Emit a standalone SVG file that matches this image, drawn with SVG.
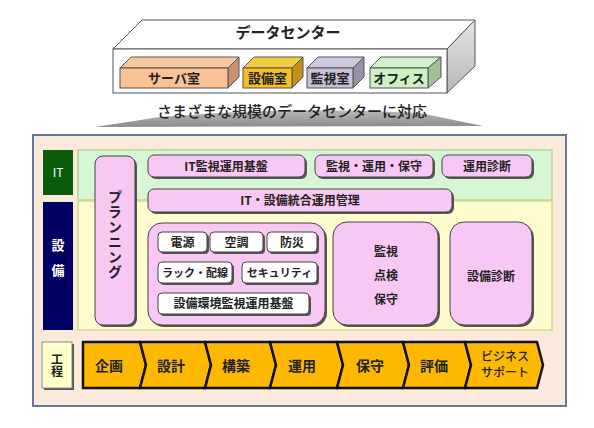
<svg xmlns="http://www.w3.org/2000/svg" width="594" height="428" viewBox="0 0 594 428">
<defs>
<linearGradient id="wedge" x1="0" y1="0" x2="0" y2="1">
<stop offset="0" stop-color="#b8b8b8"/>
<stop offset="1" stop-color="#8c8c8c"/>
</linearGradient>
<linearGradient id="side" x1="0" y1="0" x2="0" y2="1">
<stop offset="0" stop-color="#e4e4e4"/>
<stop offset="1" stop-color="#b8b8b8"/>
</linearGradient>
</defs>
<style>
text{font-family:"Noto Sans CJK JP","Noto Sans",sans-serif;font-weight:700;fill:#222;text-anchor:middle}
.shd{fill:#555}
.pink{fill:#f8c8f4;stroke:#444;stroke-width:1}
.wht{fill:#fff;stroke:#444;stroke-width:1}
.proc{fill:#ffb800;stroke:#111;stroke-width:2.5;stroke-linejoin:miter}
.t12{font-size:12px}
.t13{font-size:13px}
.t14{font-size:14px}
.edge{stroke:#555;stroke-width:1}
</style>
<rect width="594" height="428" fill="#fff"/>

<g id="datacenter">
<polygon points="113,49 142,20 475,20 447,49" fill="#fff" class="edge"/>
<polygon points="447,49 475,20 475,66 447,93" fill="url(#side)" class="edge"/>
<rect x="113" y="49" width="334" height="44" fill="#fff" class="edge"/>
<text x="288" y="38" style="font-size:15px">データセンター</text>
</g>
<g id="server-room">
<polygon points="120,68 131,57 239,57 228,68" fill="#f7c8a0" class="edge"/>
<polygon points="228,68 239,57 239,77 228,88" fill="#c89072" class="edge"/>
<rect x="120" y="68" width="108" height="20" fill="#f9c196" class="edge"/>
<text x="174" y="83" class="t13">サーバ室</text>
</g>
<g id="facility-room">
<polygon points="243,68 254,57 303,57 292,68" fill="#f2cc40" class="edge"/>
<polygon points="292,68 303,57 303,77 292,88" fill="#c09018" class="edge"/>
<rect x="243" y="68" width="49" height="20" fill="#f2c020" class="edge"/>
<text x="267.5" y="83" class="t13">設備室</text>
</g>
<g id="monitor-room">
<polygon points="307,68 318,57 364,57 353,68" fill="#d0c8dc" class="edge"/>
<polygon points="353,68 364,57 364,77 353,88" fill="#9a90a8" class="edge"/>
<rect x="307" y="68" width="46" height="20" fill="#c8c0d6" class="edge"/>
<text x="330" y="83" class="t13">監視室</text>
</g>
<g id="office">
<polygon points="370,68 381,57 441,57 428,68" fill="#d4f0cc" class="edge"/>
<polygon points="428,68 441,57 441,77 428,88" fill="#a0c098" class="edge"/>
<rect x="370" y="68" width="58" height="20" fill="#ccf2c4" class="edge"/>
<text x="399" y="83" class="t13">オフィス</text>
</g>

<g id="subtitle">
<path d="M95,127 L160,117 Q290,106 420,113 L483,126 Z" fill="url(#wedge)"/>
<text x="292" y="117" style="font-size:15px;font-weight:500">さまざまな規模のデータセンターに対応</text>
</g>

<g id="frame">
<rect x="33" y="135" width="533" height="271" fill="#fbe9dc" stroke="#66789a" stroke-width="2"/>
</g>

<g id="it-area">
<rect x="78" y="150" width="474" height="50" fill="#d6f6d4" stroke="#b8d49a" stroke-width="1.5"/>
</g>
<g id="facility-area">
<rect x="78" y="201" width="474" height="129" fill="#fffcd0" stroke="#d4d890" stroke-width="1.5"/>
</g>

<g id="label-it">
<rect x="43" y="150" width="30" height="45" fill="#0b5c0b"/>
<text x="58" y="177" class="t12" style="fill:#fff;font-weight:400">IT</text>
</g>
<g id="label-facility">
<rect x="43" y="202" width="30" height="128" fill="#000060"/>
<text x="58" y="250" class="t13" style="fill:#fff">設</text>
<text x="58" y="275" class="t13" style="fill:#fff">備</text>
</g>
<g id="label-process">
<rect x="44" y="344" width="30" height="46" class="shd"/>
<rect x="42" y="342" width="30" height="46" fill="#ffffc8" stroke="#888" stroke-width="1"/>
<text x="57" y="365" style="font-size:12px;writing-mode:vertical-rl">工程</text>
</g>

<g id="planning">
<rect x="97" y="158" width="40" height="169" rx="8" class="shd"/>
<rect x="95" y="156" width="40" height="169" rx="8" class="pink"/>
<text x="115" y="235" style="font-size:14px;writing-mode:vertical-rl;letter-spacing:1px">プランニング</text>
</g>

<g id="it-monitor-base">
<rect x="150" y="157" width="157" height="22" rx="6" class="shd"/>
<rect x="148" y="155" width="157" height="22" rx="6" class="pink"/>
<text x="226" y="171" class="t12">IT監視運用基盤</text>
</g>
<g id="monitor-ops">
<rect x="317" y="157" width="118" height="22" rx="6" class="shd"/>
<rect x="315" y="155" width="118" height="22" rx="6" class="pink"/>
<text x="374" y="171" class="t12">監視・運用・保守</text>
</g>
<g id="ops-diagnosis">
<rect x="444" y="157" width="90" height="22" rx="6" class="shd"/>
<rect x="442" y="155" width="90" height="22" rx="6" class="pink"/>
<text x="487" y="171" class="t12">運用診断</text>
</g>
<g id="integrated-mgmt">
<rect x="150" y="191" width="304" height="23" rx="6" class="shd"/>
<rect x="148" y="189" width="304" height="23" rx="6" class="pink"/>
<text x="300" y="205" class="t12">IT・設備統合運用管理</text>
</g>

<g id="facility-group">
<rect x="150" y="225" width="177" height="102" rx="14" class="shd"/>
<rect x="148" y="223" width="177" height="102" rx="14" class="pink"/>
</g>
<g id="power">
<rect x="160" y="234" width="49" height="20" rx="4" class="shd"/>
<rect x="158" y="232" width="49" height="20" rx="4" class="wht"/>
<text x="182.5" y="247" class="t12">電源</text>
</g>
<g id="aircon">
<rect x="212" y="234" width="53" height="20" rx="4" class="shd"/>
<rect x="210" y="232" width="53" height="20" rx="4" class="wht"/>
<text x="236.5" y="247" class="t12">空調</text>
</g>
<g id="disaster">
<rect x="269" y="234" width="50" height="20" rx="4" class="shd"/>
<rect x="267" y="232" width="50" height="20" rx="4" class="wht"/>
<text x="292" y="247" class="t12">防災</text>
</g>
<g id="rack">
<rect x="160" y="264" width="74" height="21" rx="4" class="shd"/>
<rect x="158" y="262" width="74" height="21" rx="4" class="wht"/>
<text x="195" y="277" style="font-size:11px">ラック・配線</text>
</g>
<g id="security">
<rect x="244" y="264" width="75" height="21" rx="4" class="shd"/>
<rect x="242" y="262" width="75" height="21" rx="4" class="wht"/>
<text x="279.5" y="277" style="font-size:11px">セキュリティ</text>
</g>
<g id="env-base">
<rect x="160" y="295" width="151" height="21" rx="4" class="shd"/>
<rect x="158" y="293" width="151" height="21" rx="4" class="wht"/>
<text x="233.5" y="308" class="t12">設備環境監視運用基盤</text>
</g>

<g id="monitor-inspect">
<rect x="335" y="224" width="105" height="103" rx="14" class="shd"/>
<rect x="333" y="222" width="105" height="103" rx="14" class="pink"/>
<text x="386" y="256" class="t12">監視</text>
<text x="386" y="280" class="t12">点検</text>
<text x="386" y="304" class="t12">保守</text>
</g>
<g id="facility-diagnosis">
<rect x="452" y="224" width="82" height="103" rx="14" class="shd"/>
<rect x="450" y="222" width="82" height="103" rx="14" class="pink"/>
<text x="491" y="281" class="t12">設備診断</text>
</g>

<g id="steps">
<g id="step-plan">
<polygon points="83,342 140,342 146,365 140,388 83,388" class="proc"/>
<text x="109" y="371" class="t14">企画</text>
</g>
<g id="step-design">
<polygon points="140,342 205,342 211,365 205,388 140,388 146,365" class="proc"/>
<text x="171" y="371" class="t14">設計</text>
</g>
<g id="step-build">
<polygon points="205,342 270,342 276,365 270,388 205,388 211,365" class="proc"/>
<text x="236" y="371" class="t14">構築</text>
</g>
<g id="step-operate">
<polygon points="270,342 337,342 343,365 337,388 270,388 276,365" class="proc"/>
<text x="302" y="371" class="t14">運用</text>
</g>
<g id="step-maintain">
<polygon points="337,342 403,342 409,365 403,388 337,388 343,365" class="proc"/>
<text x="370" y="371" class="t14">保守</text>
</g>
<g id="step-evaluate">
<polygon points="403,342 465,342 471,365 465,388 403,388 409,365" class="proc"/>
<text x="434" y="371" class="t14">評価</text>
</g>
<g id="step-business">
<polygon points="465,342 537,342 543,365 537,388 465,388 471,365" class="proc"/>
<text x="505" y="361" style="font-size:12px;font-weight:500">ビジネス</text>
<text x="505" y="377" style="font-size:12px;font-weight:500">サポート</text>
</g>
</g>
</svg>
